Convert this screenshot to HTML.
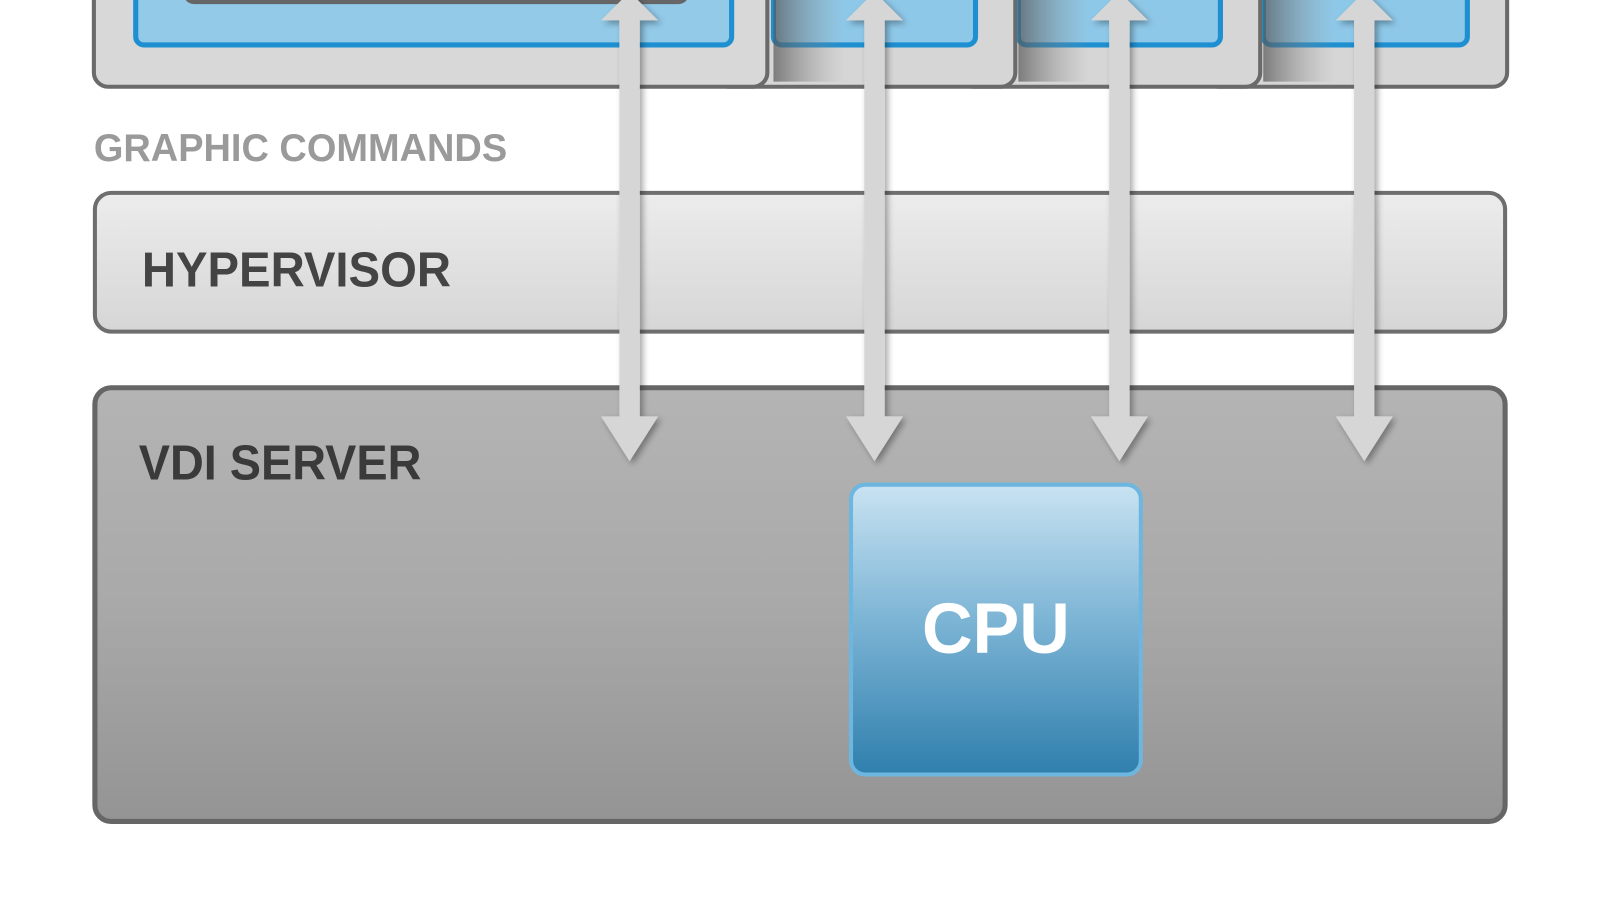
<!DOCTYPE html>
<html><head><style>
html,body{margin:0;padding:0;background:#fff;width:1600px;height:900px;overflow:hidden}
</style></head><body>
<svg width="1600" height="900" viewBox="0 0 1568 882" preserveAspectRatio="none" xmlns="http://www.w3.org/2000/svg">
<defs>
<linearGradient id="hyp" x1="0" y1="0" x2="0" y2="1"><stop offset="0" stop-color="#ececec"/><stop offset="1" stop-color="#d6d6d6"/></linearGradient>
<linearGradient id="vdi" x1="0" y1="0" x2="0" y2="1"><stop offset="0" stop-color="#b4b4b4"/><stop offset="0.5" stop-color="#a9a9a9"/><stop offset="1" stop-color="#949494"/></linearGradient>
<linearGradient id="cpu" x1="0" y1="0" x2="0" y2="1"><stop offset="0" stop-color="#c9e3f2"/><stop offset="0.45" stop-color="#7fb6d6"/><stop offset="1" stop-color="#2f7fad"/></linearGradient>
<linearGradient id="shL" x1="0" y1="0" x2="1" y2="0"><stop offset="0" stop-color="#555"/><stop offset="1" stop-color="#999" stop-opacity="0"/></linearGradient>
<filter id="sh" x="-50%" y="-20%" width="200%" height="140%"><feDropShadow dx="3" dy="3" stdDeviation="3" flood-color="#000" flood-opacity="0.35"/></filter>
</defs>
<g>
<rect x="1180" y="-40" width="297" height="125" rx="14" fill="#d6d6d6" stroke="#6a6a6a" stroke-width="4"/>
<rect x="1238" y="-40" width="200" height="84" rx="8" fill="#8ec8e8" stroke="#1e8fd0" stroke-width="5"/>
<rect x="1238" y="0" width="70" height="80" fill="url(#shL)" opacity="0.7"/>
<rect x="940" y="-40" width="295" height="125" rx="14" fill="#d6d6d6" stroke="#6a6a6a" stroke-width="4"/>
<rect x="998" y="-40" width="198" height="84" rx="8" fill="#8ec8e8" stroke="#1e8fd0" stroke-width="5"/>
<rect x="998" y="0" width="70" height="80" fill="url(#shL)" opacity="0.7"/>
<rect x="700" y="-40" width="295" height="125" rx="14" fill="#d6d6d6" stroke="#6a6a6a" stroke-width="4"/>
<rect x="758" y="-40" width="198" height="84" rx="8" fill="#8ec8e8" stroke="#1e8fd0" stroke-width="5"/>
<rect x="758" y="0" width="70" height="80" fill="url(#shL)" opacity="0.7"/>
<rect x="92" y="-40" width="660" height="125" rx="14" fill="#d8d8d8" stroke="#6a6a6a" stroke-width="4"/>
<rect x="133" y="-40" width="584" height="84" rx="8" fill="#92cae8" stroke="#1e8fd0" stroke-width="5"/>
<rect x="180" y="-30" width="495" height="34" rx="10" fill="#666"/>
</g>
<text x="92" y="158" textLength="405" lengthAdjust="spacingAndGlyphs" font-family="Liberation Sans, sans-serif" font-size="38" font-weight="bold" fill="#9a9a9a">GRAPHIC COMMANDS</text>
<rect x="93" y="189" width="1382" height="136" rx="16" fill="url(#hyp)" stroke="#6e6e6e" stroke-width="4"/>
<text x="139" y="281" textLength="303" lengthAdjust="spacingAndGlyphs" font-family="Liberation Sans, sans-serif" font-size="48" font-weight="bold" fill="#444">HYPERVISOR</text>
<rect x="93" y="380" width="1382" height="425" rx="16" fill="url(#vdi)" stroke="#666" stroke-width="5"/>
<text x="136" y="470" textLength="277" lengthAdjust="spacingAndGlyphs" font-family="Liberation Sans, sans-serif" font-size="48" font-weight="bold" fill="#3a3a3a">VDI SERVER</text>
<rect x="834" y="475" width="284" height="284" rx="14" fill="url(#cpu)" stroke="#6db6e0" stroke-width="4"/>
<text x="976" y="640" text-anchor="middle" textLength="145" lengthAdjust="spacingAndGlyphs" font-family="Liberation Sans, sans-serif" font-size="70" font-weight="bold" fill="#fff">CPU</text>
<g fill="#d6d6d6" filter="url(#sh)">
<path d="M607 20 L589 20 L617 -8 L645 20 L627 20 L627 408 L645 408 L617 452 L589 408 L607 408 Z"/>
<path d="M847 20 L829 20 L857 -8 L885 20 L867 20 L867 408 L885 408 L857 452 L829 408 L847 408 Z"/>
<path d="M1087 20 L1069 20 L1097 -8 L1125 20 L1107 20 L1107 408 L1125 408 L1097 452 L1069 408 L1087 408 Z"/>
<path d="M1327 20 L1309 20 L1337 -8 L1365 20 L1347 20 L1347 408 L1365 408 L1337 452 L1309 408 L1327 408 Z"/>
</g>
</svg>
</body></html>
